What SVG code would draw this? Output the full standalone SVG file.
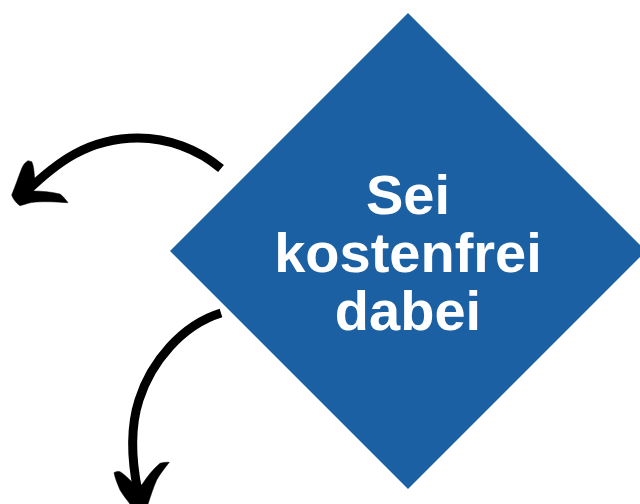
<svg xmlns="http://www.w3.org/2000/svg" width="640" height="504" viewBox="0 0 640 504">
<style>
.t{font-family:"Liberation Sans",Arial,sans-serif;font-weight:700;font-size:56px;fill:#fff;text-anchor:middle}
.a{fill:#000;stroke:#000;stroke-width:.5;stroke-linejoin:round}
.s{fill:none;stroke:#000;stroke-width:9}
</style>
<rect width="640" height="504" fill="#fff"/>
<g id="connectors">
<path class="s" d="M221 168.500C198 149 168 138 138 138C88 138 56 163 26 192"/>
<path class="a" d="M35 181C34 173 34 166 31.700 161.700L28 160.700C24.500 163 23 165 21.500 169C18 178 15 187 11.700 195C13 199 16 203 20 205.700C25 204.500 29 202.500 36 202C46 201.300 58 202 68 202.700C65 199 63 196 60 194C52 192 42 191 33 191Z"/>
<path class="s" d="M221 313C182 325 151 362 139 400C130 428 131 458 138 492"/>
<path class="a" d="M131.700 481.700C128 478 124 474 120 471.700C118 471 116 471.500 114 472.700C115 478 117.500 484 120 490C123 495 127 500 130 504H148C151 495 153.500 487 156.700 480C160 474 165 468 169.300 462.300C166 462 163 462.500 160 463.300C153 469 147 477 141.700 485Z"/>
</g>
<g id="node-main">
<polygon points="408,13 646,251 408,489 170,251" fill="#1c60a4"/>
<text class="t" x="408" y="214">Sei</text>
<text class="t" x="408" y="272">kostenfrei</text>
<text class="t" x="408" y="330">dabei</text>
</g>
</svg>
